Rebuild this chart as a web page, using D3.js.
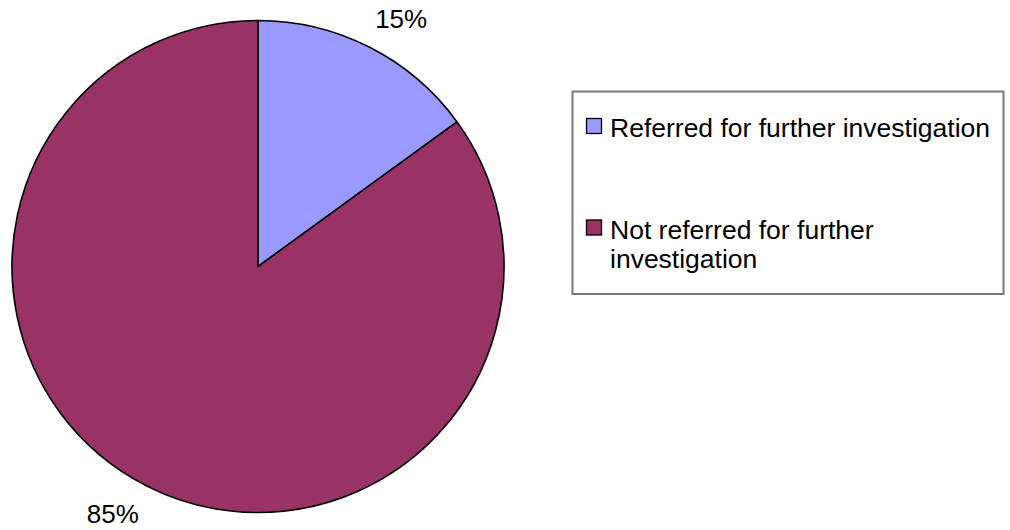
<!DOCTYPE html>
<html><head><meta charset="utf-8">
<script src="https://cdn.jsdelivr.net/npm/d3@7"></script>
<style>html,body{margin:0;padding:0;background:#fff;}svg{display:block;font-family:"Liberation Sans",Arial,sans-serif;}</style>
</head><body>
<svg id="chart" width="1010" height="530"></svg>
<script>
const categories = ["Referred for further investigation", "Not referred for further investigation"];
const values = [15, 85];
const valueLabels = ["15%", "85%"];
const legendLines = [["Referred for further investigation"], ["Not referred for further", "investigation"]];
const colors = ["#9999FF", "#993366"];

const svg = d3.select("#chart");
const cx = 258, cy = 266.5, R = 246;
const color = d3.scaleOrdinal().domain(categories).range(colors);

const pie = d3.pie().sort(null).value(d => d.v).startAngle(0).endAngle(2 * Math.PI);
const data = categories.map((c, i) => ({ c, v: values[i], label: valueLabels[i] }));
const arcs = pie(data);
const arc = d3.arc().innerRadius(0).outerRadius(R);

const g = svg.append("g").attr("transform", `translate(${cx},${cy})`);
g.selectAll("path").data(arcs).join("path")
  .attr("d", arc)
  .attr("fill", d => color(d.data.c))
  .attr("stroke", "#000")
  .attr("stroke-width", 1.6)
  .attr("stroke-linejoin", "round");

// percentage labels outside
const labelR = R + 12;
g.selectAll("text.pct").data(arcs).join("text")
  .attr("class", "pct")
  .each(function (d) {
    const a = (d.startAngle + d.endAngle) / 2;
    const px = labelR * Math.sin(a), py = -labelR * Math.cos(a);
    const right = Math.sin(a) >= 0, upper = Math.cos(a) >= 0;
    d3.select(this)
      .attr("x", right ? px : px - 2)
      .attr("y", upper ? py - 8.5 : py + 26.5)
      .attr("text-anchor", right ? "start" : "end");
  })
  .attr("font-size", 26)
  .attr("fill", "#000")
  .text(d => d.data.label);

// legend
const lg = svg.append("g");
lg.append("rect").attr("x", 572.5).attr("y", 91.5).attr("width", 431).attr("height", 202.5)
  .attr("fill", "#fff").attr("stroke", "#7a7a7a").attr("stroke-width", 2);
const entryBaselines = [137, 238.5];
const lineH = 29.5;
categories.forEach((c, i) => {
  const by = entryBaselines[i];
  lg.append("rect").attr("x", 586.5).attr("y", by - 18.5).attr("width", 15).attr("height", 15)
    .attr("fill", color(c)).attr("stroke", "#000").attr("stroke-width", 1.3);
  const t = lg.append("text").attr("x", 610).attr("y", by).attr("font-size", 26.5).attr("fill", "#000");
  legendLines[i].forEach((ln, j) => {
    t.append("tspan").attr("x", 610).attr("y", by + j * lineH).text(ln);
  });
});
</script>
</body></html>
